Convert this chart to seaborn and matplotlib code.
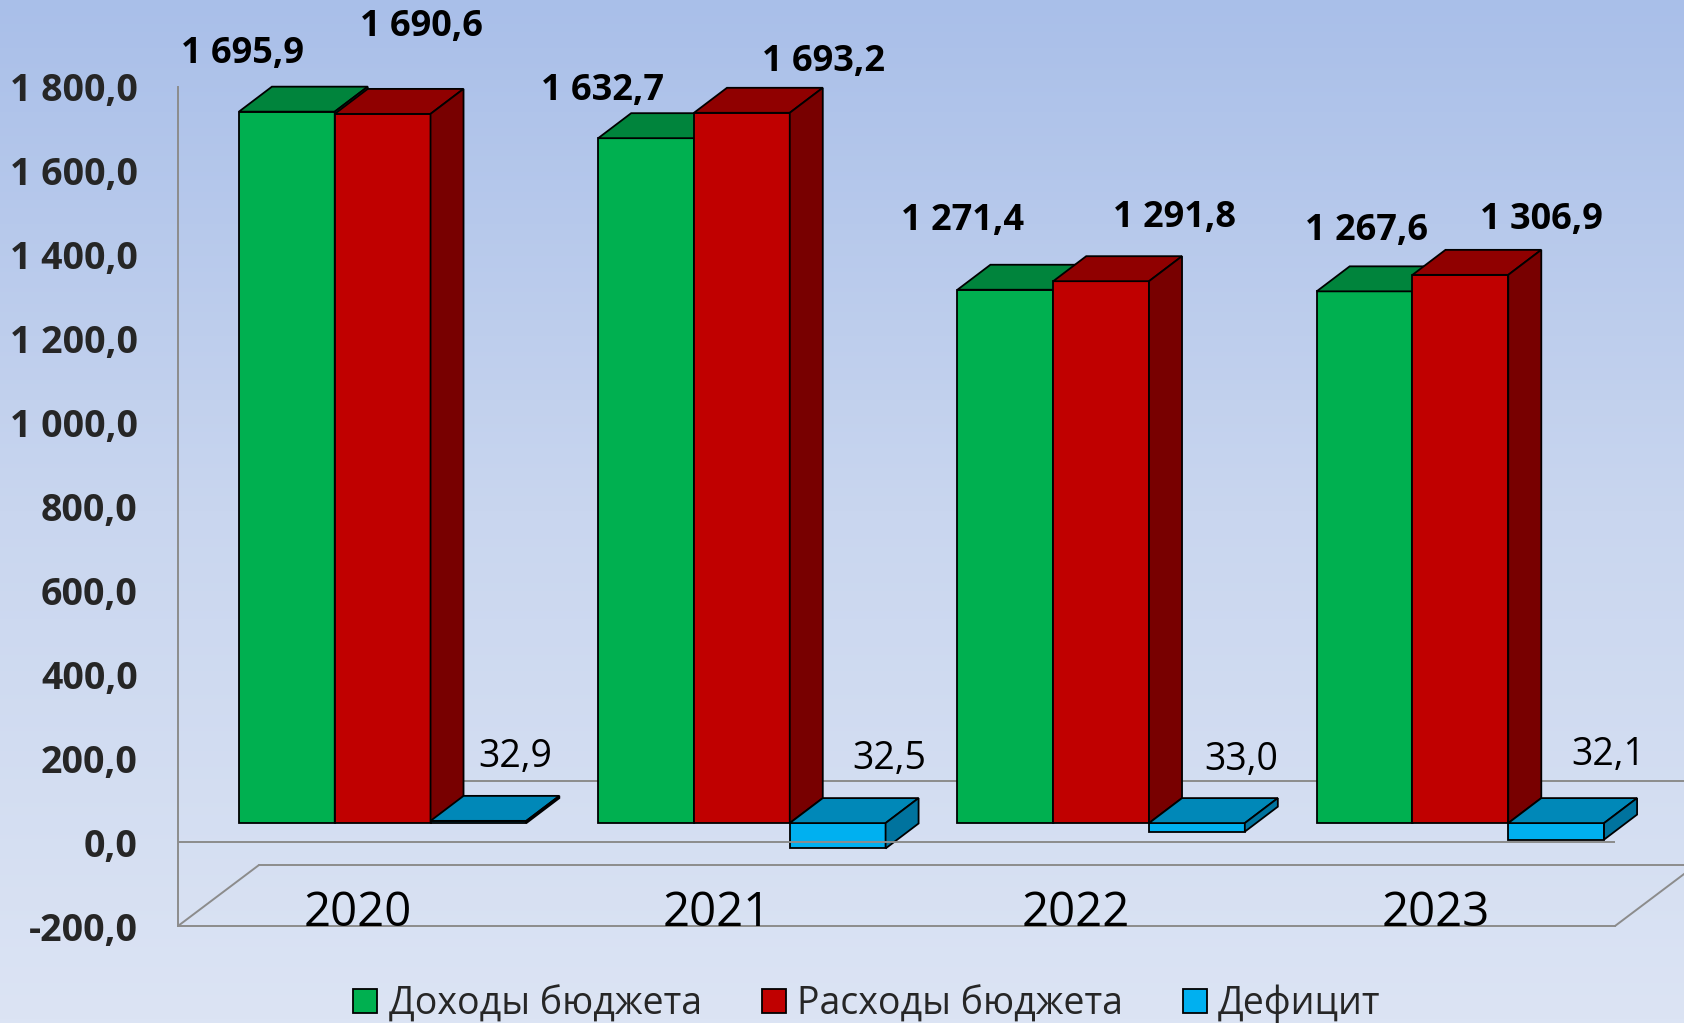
import numpy as np
import pandas as pd
import matplotlib
matplotlib.use("Agg")
import matplotlib.pyplot as plt
import seaborn as sns
from matplotlib.patches import Polygon, Patch
from matplotlib.colors import LinearSegmentedColormap
from matplotlib.ticker import FuncFormatter

# ---------------- data ----------------
years = ["2020", "2021", "2022", "2023"]
series = ["Доходы бюджета", "Расходы бюджета", "Дефицит"]
income = [1695.9, 1632.7, 1271.4, 1267.6]
expense = [1690.6, 1693.2, 1291.8, 1306.9]
balance = [5.3, -60.5, -20.4, -39.3]
deficit_labels = ["32,9", "32,5", "33,0", "32,1"]
yticks = [-200, 0, 200, 400, 600, 800, 1000, 1200, 1400, 1600, 1800]

df = pd.DataFrame({
    "year": years * 3,
    "series": np.repeat(series, len(years)),
    "value": income + expense + balance,
})

# ---------------- style ----------------
front_colors = ["#00B050", "#C00000", "#00B0F0"]
top_colors = ["#00843C", "#900000", "#0088B8"]
side_colors = ["#00622D", "#780000", "#00739E"]
grid_grey = "#8C8C8C"

sns.set_theme(style="white")
plt.rcParams["font.family"] = ["Open Sans", "DejaVu Sans"]

W, H, DPI = 1684, 1023, 100
fig = plt.figure(figsize=(W / DPI, H / DPI), dpi=DPI)

# background gradient
bg = fig.add_axes([0, 0, 1, 1], zorder=-10)
grad = np.linspace(0, 1, 256)[:, None]
cmap = LinearSegmentedColormap.from_list("bg", ["#A9BFE9", "#C9D6EF", "#DCE4F4"])
bg.imshow(grad, aspect="auto", cmap=cmap, extent=[0, 1, 0, 1], origin="upper")
bg.axis("off")

ax = fig.add_axes([178 / W, 97 / H, (1615 - 178) / W, (926 - 87) / H])
ax.patch.set_alpha(0)

sns.barplot(data=df, x="year", y="value", hue="series", hue_order=series,
            palette=front_colors, width=0.8, saturation=1, errorbar=None,
            edgecolor="black", linewidth=1.3, legend=False, ax=ax)

ax.set_xlim(-0.5, 3.5)
ax.set_ylim(-200, 1800)

# pixel scales
p0 = ax.transData.transform((0, 0))
p1 = ax.transData.transform((1, 1))
ppx = p1[0] - p0[0]
ppy = p1[1] - p0[1]

fdx, fdy = 25 / ppx, 19 / ppy      # bar front plane offset
ddx, ddy = 33 / ppx, 25 / ppy      # bar depth
Fdx, Fdy = 81 / ppx, 61 / ppy      # floor depth

# label offsets (pixels) relative to front-face top centre
val_off = [
    [(-44, 58), (-44, 47), (-43, 69), (2, 60)],
    [(39, 87), (82, 51), (73, 63), (81, 55)],
]
def_off = [(37, 66), (52, 64), (44, 63), (52, 68)]

def fmt(v):
    return f"{v:,.1f}".replace(",", " ").replace(".", ",")

for k, cont in enumerate(ax.containers):
    for i, bar in enumerate(cont.patches):
        w = bar.get_width()
        x0 = bar.get_x() + fdx
        y = bar.get_y()
        h = bar.get_height()
        bottom = min(y, y + h) + fdy
        top = max(y, y + h) + fdy
        bar.set_x(x0)
        bar.set_y(y + fdy)
        z = 2 + i + k * 0.3
        bar.set_zorder(z)
        bar.set_clip_on(False)
        topface = Polygon([(x0, top), (x0 + w, top), (x0 + w + ddx, top + ddy),
                           (x0 + ddx, top + ddy)], closed=True,
                          facecolor=top_colors[k], edgecolor="black",
                          linewidth=1.3, zorder=z + 0.1, clip_on=False)
        side = Polygon([(x0 + w, bottom), (x0 + w + ddx, bottom + ddy),
                        (x0 + w + ddx, top + ddy), (x0 + w, top)], closed=True,
                       facecolor=side_colors[k], edgecolor="black",
                       linewidth=1.3, zorder=z + 0.1, clip_on=False)
        ax.add_patch(topface)
        ax.add_patch(side)
        cx = x0 + w / 2
        if k < 2:
            vals = income if k == 0 else expense
            dx, dy = val_off[k][i]
            ax.annotate(fmt(vals[i]), xy=(cx, top), xytext=(dx * 0.72, dy * 0.72),
                        textcoords="offset points", ha="center", va="center",
                        fontsize=26, fontweight="bold", color="black",
                        annotation_clip=False, zorder=20)
        else:
            dx, dy = def_off[i]
            ax.annotate(deficit_labels[i], xy=(cx, fdy), xytext=(dx * 0.72, dy * 0.72),
                        textcoords="offset points", ha="center", va="center",
                        fontsize=27, color="black", annotation_clip=False, zorder=20)

# walls / floor lines
lw = 1.4
ax.axhline(0, color=grid_grey, lw=lw, zorder=30)
ax.plot([-0.5 + Fdx, 3.5 + Fdx + 1], [Fdy, Fdy], color=grid_grey, lw=lw,
        clip_on=False, zorder=1)
ax.plot([-0.5 + Fdx, 3.5 + Fdx], [-200 + Fdy, -200 + Fdy], color=grid_grey,
        lw=lw, clip_on=False, zorder=1)
ax.plot([-0.5, -0.5 + Fdx], [-200, -200 + Fdy], color=grid_grey, lw=lw,
        clip_on=False, zorder=1)
ax.plot([3.5, 3.5 + Fdx], [-200, -200 + Fdy], color=grid_grey, lw=lw,
        clip_on=False, zorder=1)

for sp in ["top", "right"]:
    ax.spines[sp].set_visible(False)
for sp in ["left", "bottom"]:
    ax.spines[sp].set_color(grid_grey)
    ax.spines[sp].set_linewidth(lw)

# axes ticks
ax.set_yticks(yticks)
ax.yaxis.set_major_formatter(FuncFormatter(lambda v, p: fmt(v)))
ax.tick_params(axis="y", length=0, pad=29, labelsize=27)
for t in ax.get_yticklabels():
    t.set_fontweight("bold")
ax.set_xticks([])
ax.set_xlabel("")
ax.set_ylabel("")

for i, yr in enumerate(years):
    ax.text(i, -200, yr, ha="center", va="baseline", fontsize=34, color="black",
            zorder=25)

handles = [Patch(facecolor=c, edgecolor="black", linewidth=1.3) for c in front_colors]
fig.legend(handles, series, loc="center", bbox_to_anchor=(867 / W, 1 - 1004 / H),
           ncol=3, frameon=False, fontsize=27, handlelength=0.64,
           handleheight=0.64, handletextpad=0.3, columnspacing=1.6)

fig.savefig("out.png", dpi=DPI)
